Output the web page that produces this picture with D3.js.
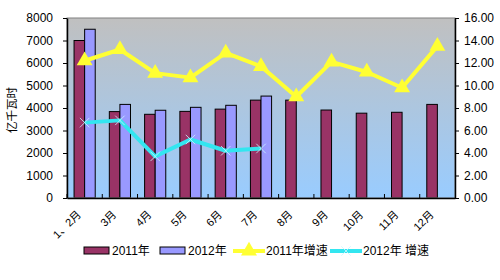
<!DOCTYPE html>
<html>
<head>
<meta charset="utf-8">
<script src="https://cdn.jsdelivr.net/npm/d3@7"></script>
<style>
  body { margin: 0; background: #fff; }
  text { font-family: "Liberation Sans", Arial, "Noto Sans CJK SC", sans-serif; }
</style>
</head>
<body>
<div id="chart"></div>
<script>
const months = ['1、2月', '3月', '4月', '5月', '6月', '7月', '8月', '9月', '10月', '11月', '12月'];
const power2011 = [7000, 3840, 3720, 3850, 3950, 4350, 4350, 3910, 3770, 3810, 4160];
const power2012 = [7500, 4160, 3900, 4030, 4120, 4530];
const growth2011 = [12.2, 13.2, 11.1, 10.7, 12.9, 11.7, 9.0, 12.1, 11.2, 9.8, 13.5];
const growth2012 = [6.7, 6.9, 3.7, 5.2, 4.2, 4.4];
const leftTicks = [0, 1000, 2000, 3000, 4000, 5000, 6000, 7000, 8000];
const rightTicks = [0, 2, 4, 6, 8, 10, 12, 14, 16];

const width = 500, height = 280;
const margin = { top: 18, right: 45, bottom: 82, left: 67 };
const w = width - margin.left - margin.right;
const h = height - margin.top - margin.bottom;

const svg = d3.select('#chart').append('svg').attr('width', width).attr('height', height);

// background gradient like the old excel chart
const grad = svg.append('defs').append('linearGradient')
  .attr('id', 'bg').attr('x1', 0).attr('y1', 0).attr('x2', 0).attr('y2', 1);
grad.append('stop').attr('offset', '0%').attr('stop-color', '#c0c0c0');
grad.append('stop').attr('offset', '100%').attr('stop-color', '#99ccff');

const g = svg.append('g').attr('transform', `translate(${margin.left},${margin.top})`);

const x = d3.scaleBand().domain(months).range([0, w]);
const yL = d3.scaleLinear().domain([0, 8000]).range([h, 0]);
const yR = d3.scaleLinear().domain([0, 16]).range([h, 0]);
const barW = x.bandwidth() * 0.3;

g.append('rect').attr('width', w).attr('height', h).attr('fill', 'url(#bg)');

// bars
g.selectAll('.b11').data(power2011).enter().append('rect')
  .attr('x', (d, i) => x(months[i]) + x.bandwidth() / 2 - barW)
  .attr('y', (d) => yL(d))
  .attr('width', barW)
  .attr('height', (d) => h - yL(d))
  .attr('fill', '#993366').attr('stroke', '#000').attr('stroke-width', 1);

g.selectAll('.b12').data(power2012).enter().append('rect')
  .attr('x', (d, i) => x(months[i]) + x.bandwidth() / 2)
  .attr('y', (d) => yL(d))
  .attr('width', barW)
  .attr('height', (d) => h - yL(d))
  .attr('fill', '#9999ff').attr('stroke', '#000').attr('stroke-width', 1);

// frame
g.append('rect').attr('width', w).attr('height', h)
  .attr('fill', 'none').attr('stroke', '#808080').attr('stroke-width', 1);

const cx = (i) => x(months[i]) + x.bandwidth() / 2;
const line = d3.line().x((d, i) => cx(i)).y((d) => yR(d));
const tri = d3.symbol().type(d3.symbolTriangle).size(110);
const cross = d3.symbol().type(d3.symbolX).size(60);

g.append('path').datum(growth2011).attr('d', line)
  .attr('fill', 'none').attr('stroke', '#ffff33').attr('stroke-width', 4).attr('stroke-linejoin', 'round');
g.selectAll('.m11').data(growth2011).enter().append('path')
  .attr('d', tri)
  .attr('transform', (d, i) => `translate(${cx(i)},${yR(d)})`)
  .attr('fill', '#ffff33');

g.append('path').datum(growth2012).attr('d', line)
  .attr('fill', 'none').attr('stroke', '#33e6f0').attr('stroke-width', 4).attr('stroke-linejoin', 'round');
g.selectAll('.m12').data(growth2012).enter().append('path')
  .attr('d', cross)
  .attr('transform', (d, i) => `translate(${cx(i)},${yR(d)})`)
  .attr('fill', 'none').attr('stroke', '#ccf6ff').attr('stroke-width', 0.8);

// axes
const axL = g.append('g').call(d3.axisLeft(yL).tickValues(leftTicks).tickFormat(d3.format('d')).tickSize(4).tickSizeOuter(0));
const axR = g.append('g').attr('transform', `translate(${w},0)`)
  .call(d3.axisRight(yR).tickValues(rightTicks).tickFormat(d3.format('.2f')).tickSize(4).tickSizeOuter(0));
const axB = g.append('g').attr('transform', `translate(0,${h})`)
  .call(d3.axisBottom(x).tickSize(0).tickSizeOuter(0));

[axL, axR, axB].forEach((a) => {
  a.select('.domain').attr('stroke', '#000').attr('stroke-width', 1.5);
  a.selectAll('.tick line').attr('stroke', '#000');
  a.selectAll('text').attr('font-size', 12).attr('fill', '#000');
});
axL.selectAll('text').attr('x', -14);
axR.selectAll('text').attr('x', 9);

// small inside ticks at category boundaries
g.selectAll('.bt').data(months).enter().append('line')
  .attr('x1', (d) => x(d)).attr('x2', (d) => x(d))
  .attr('y1', h).attr('y2', h - 4).attr('stroke', '#000');

axB.selectAll('text')
  .attr('font-size', 11)
  .attr('text-anchor', 'end')
  .attr('dy', 0)
  .attr('transform', 'translate(-5,15) rotate(-45)');

// y title
svg.append('text')
  .attr('transform', 'translate(16,110) rotate(-90)')
  .attr('text-anchor', 'middle')
  .attr('font-size', 11.5)
  .text('亿千瓦时');

// legend
const leg = svg.append('g').attr('transform', 'translate(0,251)');
const items = [
  { label: '2011年', type: 'bar', color: '#993366', x: 84 },
  { label: '2012年', type: 'bar', color: '#9999ff', x: 160 },
  { label: '2011年增速', type: 'line', color: '#ffff33', mark: tri, x: 233 },
  { label: '2012年 增速', type: 'line', color: '#33e6f0', mark: cross, x: 330 }
];
items.forEach((it) => {
  const li = leg.append('g').attr('transform', `translate(${it.x},0)`);
  if (it.type === 'bar') {
    li.append('rect').attr('x', 0).attr('y', -4).attr('width', 25).attr('height', 7)
      .attr('fill', it.color).attr('stroke', '#000');
    li.append('text').attr('x', 28).attr('y', 4).attr('font-size', 12).text(it.label);
  } else {
    li.append('line').attr('x1', 0).attr('x2', 32).attr('y1', 0).attr('y2', 0)
      .attr('stroke', it.color).attr('stroke-width', 4);
    const m = li.append('path').attr('d', it.mark).attr('transform', 'translate(16,0)');
    if (it.mark === tri) m.attr('fill', it.color);
    else m.attr('fill', 'none').attr('stroke', '#ccf6ff').attr('stroke-width', 0.8);
    li.append('text').attr('x', 33).attr('y', 4).attr('font-size', 12).text(it.label);
  }
});
</script>
</body>
</html>
